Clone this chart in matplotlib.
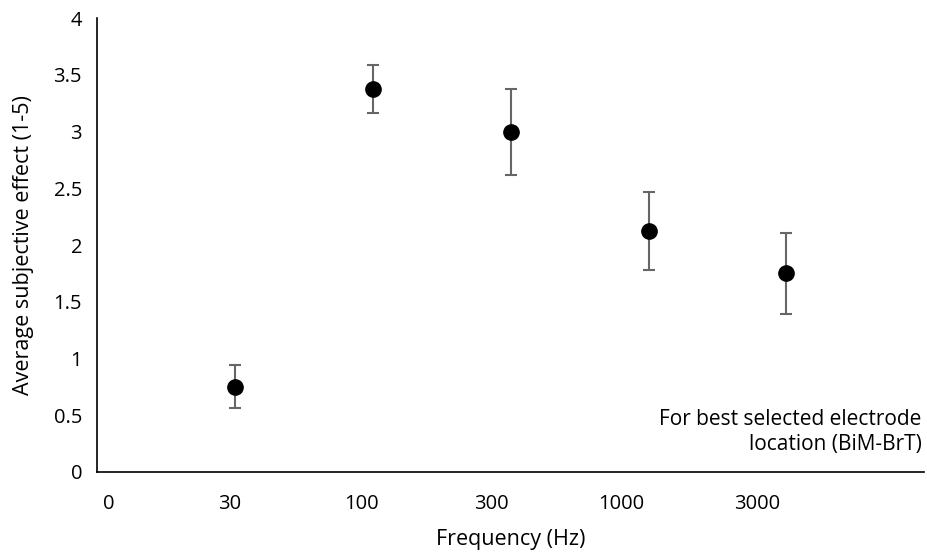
import numpy as np
import matplotlib
matplotlib.use("Agg")
import matplotlib.pyplot as plt

# ── data ──────────────────────────────────────────────────────────
point_pos   = [1, 2, 3, 4, 5]                 # one slot per frequency
mean_effect = [0.75, 3.375, 3.0, 2.125, 1.75]
err_effect  = [0.19, 0.21, 0.38, 0.34, 0.36]

tick_pos    = [0.08, 0.96, 1.92, 2.86, 3.80, 4.79]
tick_labels = ["0", "30", "100", "300", "1000", "3000"]

plt.rcParams["font.family"] = ["Open Sans", "DejaVu Sans"]

fig = plt.figure(figsize=(9.27, 5.53), dpi=100)
ax = fig.add_axes([0.105, 0.1465, 0.892, 0.8205])

ax.errorbar(point_pos, mean_effect, yerr=err_effect, fmt="o",
            color="black", markersize=11, ecolor="#666666",
            elinewidth=1.5, capsize=4.5, capthick=1.5, zorder=3)

ax.set_xlim(0, 6)
ax.set_ylim(0, 4)
ax.set_yticks(np.arange(0, 4.01, 0.5))
ax.set_yticklabels(["0", "0.5", "1", "1.5", "2", "2.5", "3", "3.5", "4"])
ax.set_xticks(tick_pos)
ax.set_xticklabels(tick_labels)
ax.tick_params(axis="both", length=0, labelsize=14.5, colors="black")
ax.tick_params(axis="y", pad=11)
ax.tick_params(axis="x", pad=16)

for s in ["top", "right"]:
    ax.spines[s].set_visible(False)
for s in ["left", "bottom"]:
    ax.spines[s].set_linewidth(1.2)
    ax.spines[s].set_color("black")

ax.set_xlabel("Frequency (Hz)", fontsize=15.5, labelpad=11)
ax.set_ylabel("Average subjective effect (1-5)", fontsize=15.5, labelpad=14)

ax.text(0.997, 0.038, "For best selected electrode\nlocation (BiM-BrT)",
        transform=ax.transAxes, ha="right", va="bottom",
        fontsize=15, linespacing=1.25)

fig.savefig("out.png", dpi=100)
